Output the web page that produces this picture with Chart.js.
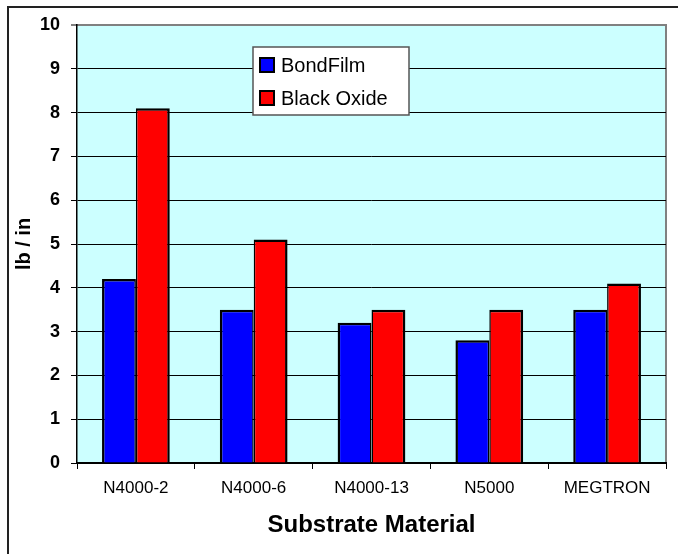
<!DOCTYPE html>
<html>
<head>
<meta charset="utf-8">
<script src="https://cdn.jsdelivr.net/npm/chart.js@4/dist/chart.umd.min.js"></script>
<style>
  html, body { margin: 0; padding: 0; background: #fff; }
  #wrap { width: 678px; height: 554px; }
</style>
</head>
<body>
<div id="wrap"><canvas id="bond-chart" width="678" height="554"></canvas></div>
<script>
// data
const materials = ['N4000-2', 'N4000-6', 'N4000-13', 'N5000', 'MEGTRON'];
const bondFilm = [4.2, 3.5, 3.2, 2.8, 3.5];
const blackOxide = [8.1, 5.1, 3.5, 3.5, 4.1];
const yTicks = [0, 1, 2, 3, 4, 5, 6, 7, 8, 9, 10];

const FONT = '"Liberation Sans", Arial, sans-serif';

// white page, outer frame and cyan plot area
const backdrop = {
    id: 'backdrop',
    beforeDraw(chart) {
        const { ctx, chartArea: a } = chart;
        ctx.save();
        ctx.fillStyle = '#fff';
        ctx.fillRect(0, 0, chart.width, chart.height);
        ctx.strokeStyle = '#222';
        ctx.lineWidth = 2;
        ctx.strokeRect(8, 7, 720, 620);
        ctx.fillStyle = '#CCFFFF';
        ctx.fillRect(a.left, a.top, a.right - a.left, a.bottom - a.top);
        ctx.strokeStyle = '#808080';
        ctx.lineWidth = 2;
        ctx.beginPath();
        ctx.moveTo(a.left, a.top);
        ctx.lineTo(a.right, a.top);
        ctx.lineTo(a.right, a.bottom);
        ctx.stroke();
        ctx.restore();
    }
};

// legend box sitting inside the plot
const boxLegend = {
    id: 'boxLegend',
    afterDraw(chart) {
        const { ctx } = chart;
        const x = 253, y = 47, w = 156, h = 68;
        ctx.save();
        ctx.fillStyle = '#fff';
        ctx.fillRect(x, y, w, h);
        ctx.strokeStyle = '#555';
        ctx.lineWidth = 1.5;
        ctx.strokeRect(x, y, w, h);
        ctx.font = '20px ' + FONT;
        ctx.textBaseline = 'middle';
        chart.data.datasets.forEach((ds, i) => {
            const cy = y + 18 + i * 33;
            ctx.fillStyle = ds.backgroundColor;
            ctx.fillRect(260, cy - 7, 14, 14);
            ctx.strokeStyle = '#000';
            ctx.lineWidth = 2;
            ctx.strokeRect(260, cy - 7, 14, 14);
            ctx.fillStyle = '#000';
            ctx.fillText(ds.label, 281, cy + 1);
        });
        ctx.restore();
    }
};

new Chart(document.getElementById('bond-chart'), {
    type: 'bar',
    data: {
        labels: materials,
        datasets: [
            {
                label: 'BondFilm',
                data: bondFilm,
                backgroundColor: '#0000FF',
                borderColor: '#000',
                borderWidth: { left: 2.5, top: 2.5, right: 1.5, bottom: 0 }
            },
            {
                label: 'Black Oxide',
                data: blackOxide,
                backgroundColor: '#FF0000',
                borderColor: '#000',
                borderWidth: { left: 1.5, top: 2.5, right: 2.5, bottom: 0 }
            }
        ]
    },
    options: {
        responsive: false,
        animation: false,
        devicePixelRatio: 1,
        layout: { padding: { top: 25, right: 12, left: 0, bottom: 0 } },
        datasets: {
            bar: { barPercentage: 1, categoryPercentage: 0.575 }
        },
        plugins: {
            legend: { display: false },
            tooltip: { enabled: false }
        },
        scales: {
            x: {
                afterFit(scale) { scale.height = 91; },
                grid: {
                    offset: true,
                    drawOnChartArea: false,
                    drawTicks: true,
                    tickLength: 6,
                    color: '#000',
                    lineWidth: 1
                },
                border: { display: true, color: '#000', width: 2 },
                ticks: {
                    color: '#000',
                    padding: 9,
                    maxRotation: 0,
                    font: { family: FONT, size: 17 }
                },
                title: {
                    display: true,
                    text: 'Substrate Material',
                    color: '#000',
                    padding: { top: 0, bottom: 14 },
                    font: { family: FONT, size: 24, weight: 'bold' }
                }
            },
            y: {
                min: 0,
                max: 10,
                afterFit(scale) { scale.width = 77; },
                afterBuildTicks(scale) {
                    scale.ticks = yTicks.map(v => ({ value: v }));
                },
                grid: {
                    color: ctx => (ctx.tick && ctx.tick.value === 10 ? '#808080' : '#000'),
                    lineWidth: ctx => (ctx.tick && ctx.tick.value === 10 ? 2 : 1),
                    tickLength: 6,
                    drawTicks: true
                },
                border: { display: true, color: '#000', width: 1.5 },
                ticks: {
                    color: '#000',
                    padding: 11,
                    font: { family: FONT, size: 18, weight: 'bold' }
                },
                title: {
                    display: true,
                    text: 'lb / in',
                    color: '#000',
                    padding: { top: 12, bottom: 0 },
                    font: { family: FONT, size: 20, weight: 'bold' }
                }
            }
        }
    },
    plugins: [backdrop, boxLegend]
});
</script>
</body>
</html>
